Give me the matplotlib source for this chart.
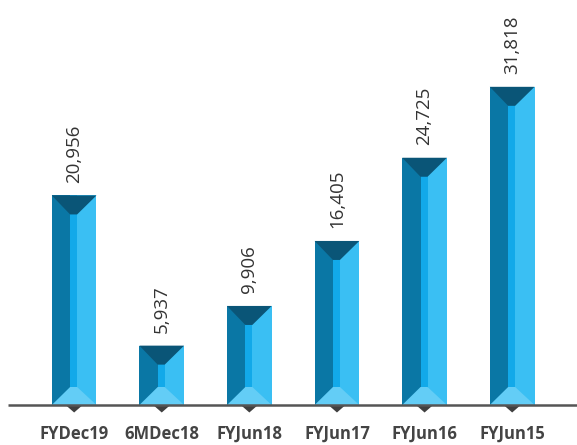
import matplotlib
matplotlib.use("Agg")
import matplotlib.pyplot as plt
from matplotlib.patches import Polygon

categories = ["FYDec19", "6MDec18", "FYJun18", "FYJun17", "FYJun16", "FYJun15"]
values = [20956, 5937, 9906, 16405, 24725, 31818]
value_labels = ["20,956", "5,937", "9,906", "16,405", "24,725", "31,818"]

# prism facet colours
C_LEFT = "#0a77a5"
C_MID = "#12a9e9"
C_RIGHT = "#3abff3"
C_TOP = "#0a5577"
C_BOTTOM = "#63cdf6"

fig = plt.figure(figsize=(5.77, 4.45), dpi=100)
ax = fig.add_axes([8 / 577, 40 / 445, 569 / 577, 405 / 445])
ax.set_xlim(-0.755, 5.74)
ax.set_ylim(0, 40500)
ax.axis("off")

half = 0.255
mid_l, mid_r = -0.046, 0.034
cap_top = 1900
cap_bot = 1800

for i, v in enumerate(values):
    L, R = i - half, i + half
    ml, mr = i + mid_l, i + mid_r
    ax.add_patch(Polygon([(L, 0), (ml, 0), (ml, v), (L, v)], closed=True,
                         facecolor=C_LEFT, edgecolor="none"))
    ax.add_patch(Polygon([(ml, 0), (mr, 0), (mr, v), (ml, v)], closed=True,
                         facecolor=C_MID, edgecolor="none"))
    ax.add_patch(Polygon([(mr, 0), (R, 0), (R, v), (mr, v)], closed=True,
                         facecolor=C_RIGHT, edgecolor="none"))
    ax.add_patch(Polygon([(L, v), (R, v), (mr, v - cap_top), (ml, v - cap_top)],
                         closed=True, facecolor=C_TOP, edgecolor="none"))
    ax.add_patch(Polygon([(L, 0), (R, 0), (mr, cap_bot), (ml, cap_bot)],
                         closed=True, facecolor=C_BOTTOM, edgecolor="none"))
    ax.text(i, v + 1250, value_labels[i], rotation=90, ha="center", va="bottom",
            fontsize=13.5, color="#333333",
            family=["Open Sans", "DejaVu Sans"])
    ax.text(i, -2900, categories[i], ha="center", va="center", fontsize=12,
            fontweight="bold", color="#444444", family=["Open Sans", "DejaVu Sans"])
    # pointer under the bar
    ax.add_patch(Polygon([(i - 0.085, -100), (i + 0.085, -100), (i, -750)],
                         closed=True, facecolor="#404040", edgecolor="none",
                         clip_on=False))

# baseline
ax.plot([-0.755, 5.74], [0, 0], color="#555555", lw=1.8, clip_on=False,
        solid_capstyle="butt")

fig.savefig("out.png", dpi=100)
